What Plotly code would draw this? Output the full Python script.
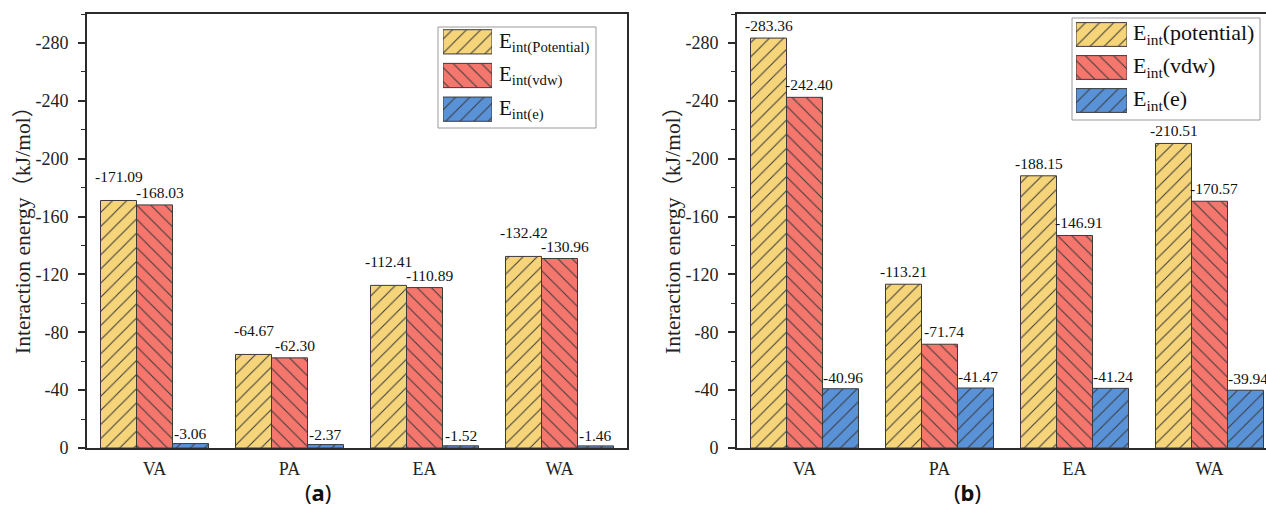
import plotly.graph_objects as go

W, H = 1266, 510

# ---- data -------------------------------------------------------------
categories = ["VA", "PA", "EA", "WA"]

a_potential = [-171.09, -64.67, -112.41, -132.42]
a_vdw = [-168.03, -62.30, -110.89, -130.96]
a_e = [-3.06, -2.37, -1.52, -1.46]

b_potential = [-283.36, -113.21, -188.15, -210.51]
b_vdw = [-242.40, -71.74, -146.91, -170.57]
b_e = [-40.96, -41.47, -41.24, -39.94]

y_ticks = [0, -40, -80, -120, -160, -200, -240, -280]

legend_a = ["E<sub>int(Potential)</sub>", "E<sub>int(vdw)</sub>", "E<sub>int(e)</sub>"]
legend_b = ["E<sub>int</sub>(potential)", "E<sub>int</sub>(vdw)", "E<sub>int</sub>(e)"]

# ---- styling ----------------------------------------------------------
COLORS = ["#F6D47A", "#F4766C", "#5A92D8"]
HATCH = ["/", "\\", "/"]
EDGE = "#3a3a3a"
SERIF = "Liberation Serif, Times New Roman, Noto Sans CJK SC, serif"
AXIS_COL = "#2b2b2b"
BAR_GAP = 0.2
N_SERIES = 3

# label offsets (px) per series: (xshift, yshift above bar end)
LABEL_SHIFT_A = [(0, 13), (5, 2), (0, 0)]
LABEL_SHIFT_B = [(0, 2), (4, 2), (2, 1)]


def px_x(p):
    return p / W


def px_y(p):
    return 1 - p / H


def pattern(shape, col):
    return dict(shape=shape, fillmode="replace", bgcolor=col,
                fgcolor=EDGE, size=10, solidity=0.1)


fig = go.Figure()


def add_group(series, xa, ya, shifts):
    slot = (1 - BAR_GAP) / N_SERIES
    for k, (vals, col, hatch) in enumerate(zip(series, COLORS, HATCH)):
        fig.add_trace(go.Bar(
            x=categories, y=vals, xaxis=xa, yaxis=ya,
            marker=dict(color=col, line=dict(color=EDGE, width=1),
                        pattern=pattern(hatch, col)),
            showlegend=False, hoverinfo="x+y",
        ))
        dx, dy = shifts[k]
        for i, v in enumerate(vals):
            fig.add_annotation(
                x=i + (k - (N_SERIES - 1) / 2) * slot, y=v, xref=xa, yref=ya,
                text=f"{v:.2f}", showarrow=False, xanchor="center", yanchor="bottom",
                xshift=dx, yshift=dy,
                font=dict(family=SERIF, size=15.5, color="#111"),
            )


add_group([a_potential, a_vdw, a_e], "x", "y", LABEL_SHIFT_A)
add_group([b_potential, b_vdw, b_e], "x2", "y2", LABEL_SHIFT_B)


# legend swatches, drawn as bars on small helper axes
def add_swatches(xa, ya):
    for k, (col, hatch) in enumerate(zip(COLORS, HATCH)):
        fig.add_trace(go.Bar(
            x=[1], y=[k], orientation="h", width=0.72, offset=-0.36,
            xaxis=xa, yaxis=ya,
            marker=dict(color=col, line=dict(color=EDGE, width=1),
                        pattern=pattern(hatch, col)),
            hoverinfo="skip", showlegend=False,
        ))


add_swatches("x3", "y3")
add_swatches("x4", "y4")

# ---- axes -------------------------------------------------------------
y_common = dict(
    range=[0, -300], tickvals=y_ticks, ticktext=[str(v) for v in y_ticks],
    ticks="outside", ticklen=7, tickwidth=1.5, tickcolor=AXIS_COL,
    minor=dict(dtick=20, tick0=0, ticks="outside", ticklen=4, tickwidth=1.2, tickcolor=AXIS_COL),
    showline=True, linecolor=AXIS_COL, linewidth=2, showgrid=False, zeroline=False,
    tickfont=dict(family=SERIF, size=18, color="#222"), ticklabelstandoff=6,
    automargin=False, fixedrange=True,
)
x_common = dict(
    showline=True, linecolor=AXIS_COL, linewidth=2, showgrid=False, zeroline=False,
    ticks="", tickfont=dict(family=SERIF, size=18, color="#222"),
    ticklabelstandoff=3, automargin=False, fixedrange=True,
)

plot_y_dom = [px_y(448), px_y(14)]

fig.update_layout(
    width=W, height=H, margin=dict(l=0, r=0, t=0, b=0),
    paper_bgcolor="white", plot_bgcolor="rgba(0,0,0,0)",
    barmode="group", bargap=BAR_GAP, bargroupgap=0,
    xaxis=dict(domain=[px_x(87), px_x(627)], range=[-0.5, 3.5], mirror=True,
               anchor="y", **x_common),
    yaxis=dict(domain=plot_y_dom, mirror=True, anchor="x", **y_common),
    xaxis2=dict(domain=[px_x(737), 1], range=[-0.5, -0.5 + (W - 737) / 135], mirror=True,
                anchor="y2", **x_common),
    yaxis2=dict(domain=plot_y_dom, mirror=False, anchor="x2", **y_common),
    xaxis3=dict(domain=[px_x(443), px_x(492)], range=[0, 1], visible=False,
                anchor="y3", fixedrange=True),
    yaxis3=dict(domain=[px_y(126), px_y(25)], range=[2.5, -0.5], visible=False,
                anchor="x3", fixedrange=True),
    xaxis4=dict(domain=[px_x(1076), px_x(1127)], range=[0, 1], visible=False,
                anchor="y4", fixedrange=True),
    yaxis4=dict(domain=[px_y(117), px_y(18)], range=[2.5, -0.5], visible=False,
                anchor="x4", fixedrange=True),
)

# ---- legend frames and labels ----------------------------------------
fig.add_shape(type="rect", xref="paper", yref="paper",
              x0=px_x(438), x1=px_x(596), y0=px_y(128), y1=px_y(27),
              line=dict(color="#9a9a9a", width=1), fillcolor="rgba(0,0,0,0)", layer="below")
fig.add_shape(type="rect", xref="paper", yref="paper",
              x0=px_x(1072), x1=px_x(1260), y0=px_y(120), y1=px_y(18),
              line=dict(color="#9a9a9a", width=1), fillcolor="rgba(0,0,0,0)", layer="below")

for i, txt in enumerate(legend_a):
    fig.add_annotation(x=px_x(497), y=px_y(42 + i * 33.7), xref="paper", yref="paper",
                       text=txt, showarrow=False, xanchor="left", yanchor="middle",
                       font=dict(family=SERIF, size=21, color="#111"))
for i, txt in enumerate(legend_b):
    fig.add_annotation(x=px_x(1131), y=px_y(34.5 + i * 33), xref="paper", yref="paper",
                       text=txt, showarrow=False, xanchor="left", yanchor="middle",
                       font=dict(family=SERIF, size=22, color="#111"))

# ---- axis titles and panel labels -----------------------------------
for xc in (23, 673):
    fig.add_annotation(x=px_x(xc), y=px_y(225), xref="paper", yref="paper",
                       text="Interaction energy（kJ/mol）", textangle=-90, showarrow=False,
                       xanchor="center", yanchor="middle",
                       font=dict(family=SERIF, size=21.5, color="#222"))

for xc, lab in ((318, "a"), (967, "b")):
    fig.add_annotation(x=px_x(xc), y=px_y(492), xref="paper", yref="paper",
                       text=f"(<b>{lab}</b>)", showarrow=False,
                       xanchor="center", yanchor="middle",
                       font=dict(family="Noto Sans, DejaVu Sans, sans-serif", size=22, color="#111"))

fig.write_html("out.html")
